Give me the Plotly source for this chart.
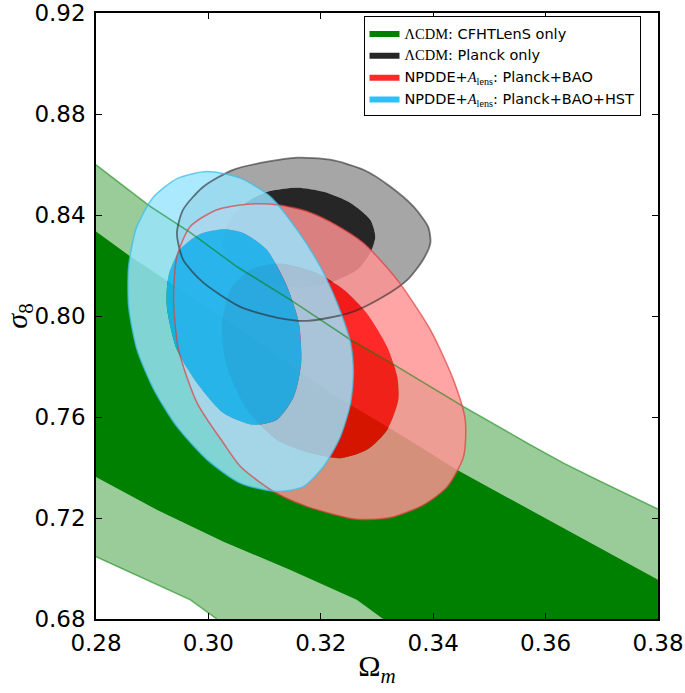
import plotly.graph_objects as go

# axis ranges / ticks
x_range = [0.28, 0.38]
y_range = [0.68, 0.92]
x_ticks = [0.28, 0.30, 0.32, 0.34, 0.36, 0.38]
y_ticks = [0.68, 0.72, 0.76, 0.80, 0.84, 0.88, 0.92]

# LCDM: CFHTLenS only (band, 2 sigma and 1 sigma edges)
green_2s_top_x = [0.28, 0.2897, 0.2968, 0.3051, 0.3146, 0.3253, 0.3324, 0.3454, 0.3573, 0.3632, 0.3692, 0.38]
green_2s_top_y = [0.8599, 0.8433, 0.8330, 0.8195, 0.8064, 0.7906, 0.7815, 0.7641, 0.7490, 0.7417, 0.7351, 0.7235]
green_2s_low_x = [0.28, 0.2879, 0.2968, 0.3015]
green_2s_low_y = [0.7047, 0.6968, 0.6876, 0.68]
green_1s_top_x = [0.28, 0.2861, 0.295, 0.305, 0.3218, 0.3342, 0.3442, 0.3573, 0.3692, 0.38]
green_1s_top_y = [0.8335, 0.8236, 0.8105, 0.7955, 0.7694, 0.7530, 0.7391, 0.7232, 0.7087, 0.6955]
green_1s_low_x = [0.28, 0.2909, 0.3027, 0.3146, 0.3264, 0.3311]
green_1s_low_y = [0.7362, 0.7232, 0.7106, 0.6994, 0.6876, 0.68]

# LCDM: Planck only
gray_outer_x = [0.2944, 0.2955, 0.2991, 0.3044, 0.3105, 0.3158, 0.3217, 0.3276, 0.3324, 0.3365, 0.3391,
                0.3395, 0.3382, 0.3354, 0.3311, 0.3253, 0.3176, 0.3123, 0.3057, 0.2991, 0.2955]
gray_outer_y = [0.8328, 0.8421, 0.8512, 0.8579, 0.8611, 0.8627, 0.8619, 0.8579, 0.8512, 0.8433, 0.8353,
                0.8290, 0.8223, 0.8143, 0.8076, 0.8013, 0.7981, 0.7993, 0.8036, 0.8132, 0.8223]
gray_inner_x = [0.3066, 0.3105, 0.3158, 0.3205, 0.3253, 0.3288, 0.3297, 0.3288, 0.3265, 0.3217, 0.3164,
                0.3110, 0.3066, 0.3035, 0.3025, 0.3035]
gray_inner_y = [0.8448, 0.8492, 0.8508, 0.8492, 0.8448, 0.8381, 0.8314, 0.8250, 0.8183, 0.8132, 0.8112,
                0.8128, 0.8163, 0.8223, 0.8290, 0.8373]

# NPDDE+Alens: Planck+BAO
red_outer_x = [0.3015, 0.3069, 0.3122, 0.3176, 0.3217, 0.3276, 0.3336, 0.3395, 0.3436, 0.3457, 0.3454, 0.3425,
               0.3383, 0.3324, 0.3264, 0.3176, 0.3116, 0.3057, 0.3027, 0.2980, 0.2947, 0.2938, 0.2944, 0.2968]
red_outer_y = [0.8421, 0.8443, 0.8441, 0.8414, 0.8373, 0.8289, 0.8143, 0.7945, 0.7747, 0.7589, 0.7443, 0.7324,
               0.7252, 0.7202, 0.7195, 0.7245, 0.7305, 0.7404, 0.7496, 0.7655, 0.7866, 0.8064, 0.8236, 0.8355]
red_inner_x = [0.3128, 0.3193, 0.3241, 0.3282, 0.3318, 0.3336, 0.3338, 0.3318, 0.3282, 0.3235, 0.3181, 0.3122,
               0.3069, 0.3033, 0.3024, 0.3039, 0.3075]
red_inner_y = [0.8207, 0.8170, 0.8104, 0.8011, 0.7879, 0.7760, 0.7668, 0.7549, 0.7470, 0.7437, 0.7457, 0.7509,
               0.7628, 0.7800, 0.7958, 0.8104, 0.8183]

# NPDDE+Alens: Planck+BAO+HST
cyan_outer_x = [0.2998, 0.2945, 0.2902, 0.2872, 0.2858, 0.2858, 0.2873, 0.2903, 0.2944, 0.2998, 0.3057, 0.3122,
                0.3169, 0.3205, 0.3235, 0.3253, 0.3258, 0.3253, 0.3229, 0.3199, 0.3158, 0.3110, 0.3057]
cyan_outer_y = [0.8572, 0.8545, 0.8470, 0.8350, 0.8196, 0.8038, 0.7866, 0.7708, 0.7562, 0.7430, 0.7338, 0.7305,
                0.7324, 0.7404, 0.7523, 0.7655, 0.7774, 0.7893, 0.8051, 0.8196, 0.8341, 0.8473, 0.8546]
cyan_inner_x = [0.3027, 0.2985, 0.2950, 0.2929, 0.2926, 0.2944, 0.2980, 0.3027, 0.3080, 0.3122, 0.3152, 0.3165,
                0.3161, 0.3140, 0.3104, 0.3063]
cyan_inner_y = [0.8344, 0.8325, 0.8265, 0.8160, 0.8038, 0.7866, 0.7734, 0.7615, 0.7569, 0.7589, 0.7681, 0.7813,
                0.7972, 0.8117, 0.8262, 0.8328]

names = [
    "<span style='font-family:Liberation Serif'>ΛCDM</span>: CFHTLenS only",
    "<span style='font-family:Liberation Serif'>ΛCDM</span>: Planck only",
    "NPDDE+<span style='font-family:Liberation Serif'><i>A</i><sub>lens</sub></span>: Planck+BAO",
    "NPDDE+<span style='font-family:Liberation Serif'><i>A</i><sub>lens</sub></span>: Planck+BAO+HST",
]


def closed(xs, ys):
    return list(xs) + [xs[0]], list(ys) + [ys[0]]


def ring(ox, oy, ix, iy):
    # outer contour with the inner one cut out (reverse winding)
    ox, oy = closed(ox, oy)
    ix, iy = closed(ix[::-1], iy[::-1])
    return ox + [None] + ix, oy + [None] + iy


def band(top_x, top_y, low_x, low_y):
    xs = list(top_x) + [x_range[1], low_x[-1]] + list(low_x[::-1])[1:]
    ys = list(top_y) + [y_range[0], y_range[0]] + list(low_y[::-1])[1:]
    return xs, ys


fig = go.Figure()


def add_fill(xs, ys, color, name=None, smooth=True):
    fig.add_trace(go.Scatter(
        x=xs, y=ys, mode="lines", fill="toself", fillcolor=color,
        line=dict(width=0, shape="spline" if smooth else "linear", smoothing=0.7),
        name=name, showlegend=name is not None, hoverinfo="skip"))


def add_line(xs, ys, color, width=1.5, smooth=True):
    fig.add_trace(go.Scatter(
        x=xs, y=ys, mode="lines",
        line=dict(color=color, width=width, shape="spline" if smooth else "linear", smoothing=0.7),
        showlegend=False, hoverinfo="skip"))


# green band
bx, by = band(green_2s_top_x, green_2s_top_y, green_2s_low_x, green_2s_low_y)
add_fill(bx, by, "#99cc99", smooth=False)
bx, by = band(green_1s_top_x, green_1s_top_y, green_1s_low_x, green_1s_low_y)
add_fill(bx, by, "#008000", names[0], smooth=False)

# Planck
rx, ry = ring(gray_outer_x, gray_outer_y, gray_inner_x, gray_inner_y)
add_fill(rx, ry, "rgba(128,128,128,0.7)")
gx, gy = closed(gray_inner_x, gray_inner_y)
add_fill(gx, gy, "rgba(0,0,0,0.85)", names[1])

# Planck+BAO
rx, ry = ring(red_outer_x, red_outer_y, red_inner_x, red_inner_y)
add_fill(rx, ry, "rgba(255,147,147,0.83)")
gx, gy = closed(red_inner_x, red_inner_y)
add_fill(gx, gy, "rgba(255,0,0,0.84)", names[2])

# Planck+BAO+HST
rx, ry = ring(cyan_outer_x, cyan_outer_y, cyan_inner_x, cyan_inner_y)
add_fill(rx, ry, "rgba(154,229,255,0.83)")
gx, gy = closed(cyan_inner_x, cyan_inner_y)
add_fill(gx, gy, "rgba(20,185,245,0.9)", names[3])

# contour edges
add_line(green_2s_top_x, green_2s_top_y, "rgba(0,128,0,0.55)", smooth=False)
add_line(green_2s_low_x, green_2s_low_y, "rgba(0,128,0,0.55)", smooth=False)
ex, ey = closed(gray_outer_x, gray_outer_y)
add_line(ex, ey, "rgba(40,40,40,0.6)", 1.8)
ex, ey = closed(red_outer_x, red_outer_y)
add_line(ex, ey, "rgba(225,60,60,0.7)")
ex, ey = closed(cyan_outer_x, cyan_outer_y)
add_line(ex, ey, "rgba(60,190,230,0.75)")

axis_common = dict(
    showgrid=False, zeroline=False, showline=True, linecolor="black", linewidth=1.5,
    mirror="ticks", ticks="inside", ticklen=6, tickwidth=1.2, tickcolor="black",
    tickformat=".2f", tickfont=dict(family="DejaVu Sans", size=23, color="black"),
    automargin=False,
)

fig.update_layout(
    width=685, height=693,
    margin=dict(l=95.7, r=27.3, t=13.3, b=74),
    paper_bgcolor="white", plot_bgcolor="white",
    xaxis=dict(range=x_range, tickvals=x_ticks, ticklabelstandoff=3,
               title=dict(text="Ω<sub><i>m</i></sub>", standoff=0,
                          font=dict(family="Liberation Serif", size=30, color="black")),
               **axis_common),
    yaxis=dict(range=y_range, tickvals=y_ticks, ticklabelstandoff=4,
               title=dict(text="<i>σ</i><sub>8</sub>", standoff=12,
                          font=dict(family="Liberation Serif", size=30, color="black")),
               **axis_common),
    legend=dict(x=0.476, y=0.995, xanchor="left", yanchor="top",
                bgcolor="white", bordercolor="black", borderwidth=1,
                font=dict(family="DejaVu Sans", size=14.5, color="black"),
                tracegroupgap=0),
)

fig.write_html("out.html", config={"displayModeBar": False},
               post_script="document.body.style.margin='0px';")
